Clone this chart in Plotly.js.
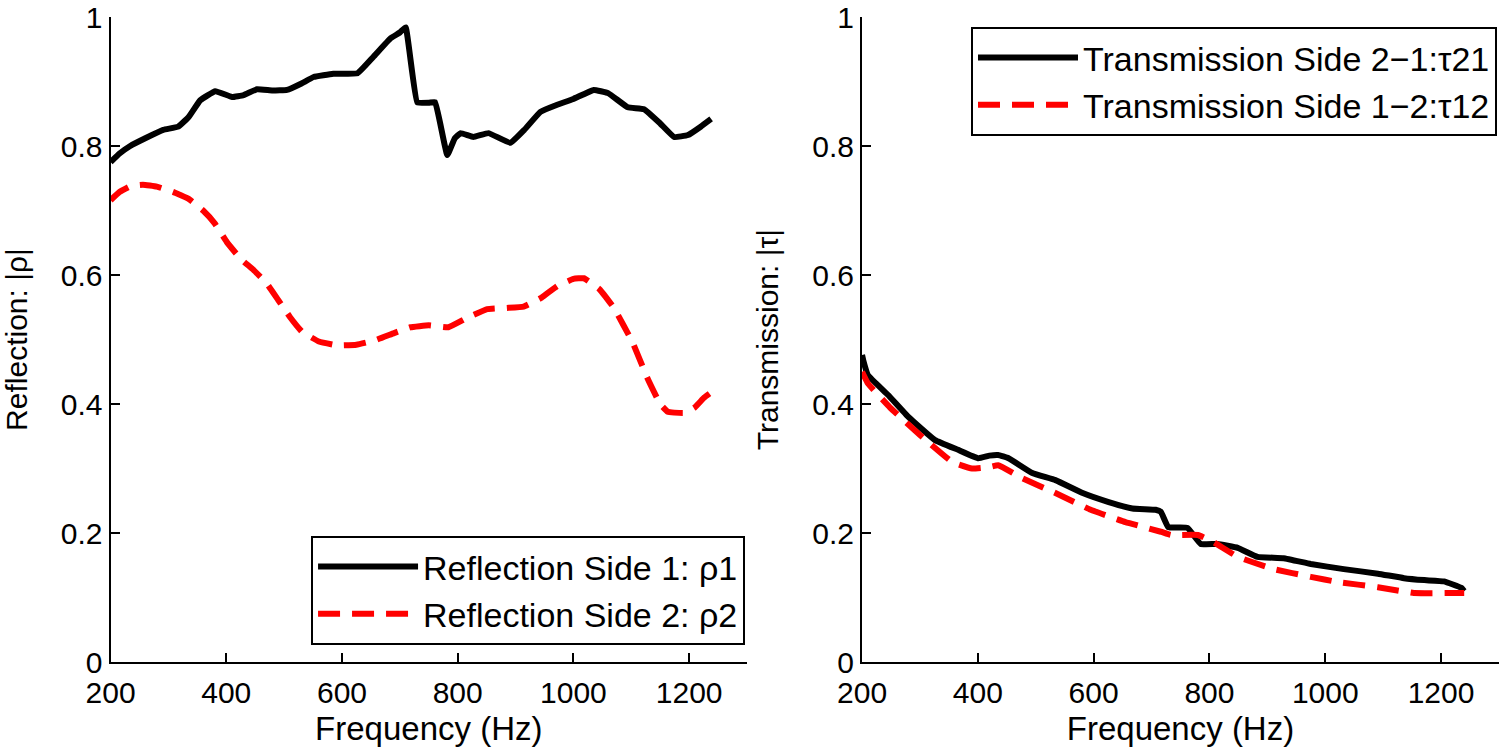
<!DOCTYPE html>
<html>
<head>
<meta charset="utf-8">
<script src="https://cdn.plot.ly/plotly-3.0.1.min.js"></script>
<style>
  html, body { margin: 0; padding: 0; background: #fff; }
  #chart { width: 1500px; height: 750px; }
</style>
</head>
<body>
<div id="chart"></div>
<script>
"use strict";

// Reflection, left panel
const rho1Freq = [200, 215, 234, 260, 291, 317, 335, 355, 381, 410, 430, 453, 480, 505, 530, 551, 585, 627, 654, 684, 700, 710,
    730, 750, 761, 782, 795, 805, 827, 853, 891, 915, 943, 972, 1000, 1035, 1060, 1094, 1122, 1150, 1174, 1198, 1220, 1238];
const rho1 = [0.775, 0.788, 0.800, 0.812, 0.825, 0.830, 0.845, 0.871, 0.885, 0.876, 0.879, 0.888, 0.886, 0.887, 0.897, 0.907, 0.912, 0.913, 0.938, 0.967, 0.976, 0.984,
    0.868, 0.867, 0.868, 0.786, 0.812, 0.820, 0.814, 0.820, 0.805, 0.825, 0.853, 0.864, 0.873, 0.887, 0.882, 0.860, 0.857, 0.835, 0.814, 0.817, 0.830, 0.842];

const rho2Freq = [200, 216, 235, 256, 280, 308, 335, 360, 380, 401, 425, 447, 470, 490, 510, 531, 560, 592, 625, 658, 690, 718,
    750, 784, 815, 851, 885, 914, 945, 972, 1000, 1018, 1045, 1070, 1102, 1128, 1150, 1163, 1191, 1210, 1226, 1238];
const rho2 = [0.716, 0.729, 0.738, 0.740, 0.737, 0.729, 0.718, 0.700, 0.680, 0.651, 0.625, 0.608, 0.587, 0.561, 0.535, 0.512, 0.497, 0.491, 0.492, 0.499, 0.510, 0.519,
    0.522, 0.519, 0.533, 0.547, 0.549, 0.551, 0.565, 0.583, 0.594, 0.595, 0.578, 0.549, 0.496, 0.440, 0.400, 0.388, 0.386, 0.395, 0.410, 0.418];

// Transmission, right panel
const tau21Freq = [200, 202, 210, 245, 280, 326, 366, 401, 420, 435, 453, 494, 534, 581, 626, 667, 707, 716,
    729, 762, 785, 814, 849, 883, 928, 975, 1032, 1091, 1136, 1171, 1205, 1235, 1240];
const tau21 = [0.476, 0.468, 0.445, 0.414, 0.380, 0.344, 0.329, 0.316, 0.320, 0.321, 0.316, 0.293, 0.282, 0.262, 0.248, 0.238, 0.236, 0.233,
    0.209, 0.208, 0.183, 0.183, 0.177, 0.163, 0.161, 0.152, 0.144, 0.137, 0.130, 0.127, 0.125, 0.115, 0.110];

const tau12Freq = [200, 210, 248, 300, 356, 390, 418, 435, 477, 534, 595, 655, 716, 733, 780, 807, 849, 911, 975, 1022, 1091, 1153, 1221, 1240];
const tau12 = [0.450, 0.432, 0.395, 0.352, 0.310, 0.300, 0.302, 0.305, 0.285, 0.262, 0.236, 0.217, 0.202, 0.197, 0.197, 0.186, 0.163, 0.144, 0.132, 0.124, 0.116, 0.107, 0.107, 0.107];

const xTicks = [200, 400, 600, 800, 1000, 1200];
const yTicks = [0, 0.2, 0.4, 0.6, 0.8, 1];
const yTickText = ["0", "0.2", "0.4", "0.6", "0.8", "1"];

const FONT = "Liberation Sans, Arial, Helvetica, sans-serif";

const solid = { color: "black", width: 6, dash: "solid", shape: "spline", smoothing: 0.3 };
const dashed = { color: "red", width: 6, dash: "22px,12px", shape: "spline", smoothing: 0.3 };

const traces = [
    { x: rho1Freq, y: rho1, name: "Reflection Side 1: ρ1", type: "scatter", mode: "lines", line: solid, xaxis: "x", yaxis: "y", legend: "legend" },
    { x: rho2Freq, y: rho2, name: "Reflection Side 2: ρ2", type: "scatter", mode: "lines", line: dashed, xaxis: "x", yaxis: "y", legend: "legend" },
    { x: tau21Freq, y: tau21, name: "Transmission Side 2−1:τ21", type: "scatter", mode: "lines", line: solid, xaxis: "x2", yaxis: "y2", legend: "legend2" },
    { x: tau12Freq, y: tau12, name: "Transmission Side 1−2:τ12", type: "scatter", mode: "lines", line: dashed, xaxis: "x2", yaxis: "y2", legend: "legend2" }
];

function xAxis(domain, anchor) {
    return {
        domain: domain, anchor: anchor,
        range: [200, 1300], tickvals: xTicks,
        showline: true, linecolor: "black", linewidth: 2,
        ticks: "inside", ticklen: 9, tickwidth: 2, tickcolor: "black",
        ticklabelstandoff: 3,
        showgrid: false, zeroline: false,
        tickfont: { size: 30, color: "black" },
        title: { text: "Frequency (Hz)", font: { size: 33, color: "black" }, standoff: 9 }
    };
}

function yAxis(domain, anchor, title) {
    return {
        domain: domain, anchor: anchor,
        range: [0, 1], tickvals: yTicks, ticktext: yTickText,
        showline: true, linecolor: "black", linewidth: 2,
        ticks: "inside", ticklen: 9, tickwidth: 2, tickcolor: "black",
        showgrid: false, zeroline: false,
        tickfont: { size: 30, color: "black" },
        title: { text: title, font: { size: 30, color: "black" }, standoff: 25 }
    };
}

function legendBox(x, y, xanchor, yanchor) {
    return {
        x: x, y: y, xanchor: xanchor, yanchor: yanchor,
        bgcolor: "white", bordercolor: "black", borderwidth: 2,
        font: { family: FONT, size: 34, color: "black" },
        itemwidth: 100, tracegroupgap: 0
    };
}

const layout = {
    width: 1500, height: 750,
    margin: { l: 0, r: 0, t: 0, b: 0 },
    paper_bgcolor: "white", plot_bgcolor: "white",
    font: { family: FONT, size: 30, color: "black" },
    showlegend: true,
    xaxis: xAxis([0.0737, 0.498], "y"),
    yaxis: yAxis([0.1173, 0.9773], "x", "Reflection: |ρ|"),
    xaxis2: xAxis([0.5747, 0.9993], "y2"),
    yaxis2: yAxis([0.1173, 0.9773], "x2", "Transmission: |τ|"),
    legend: legendBox(0.4967, 0.14, "right", "bottom"),
    legend2: legendBox(0.998, 0.964, "right", "top")
};

Plotly.newPlot("chart", traces, layout, { displayModeBar: false, staticPlot: true });
</script>
</body>
</html>
